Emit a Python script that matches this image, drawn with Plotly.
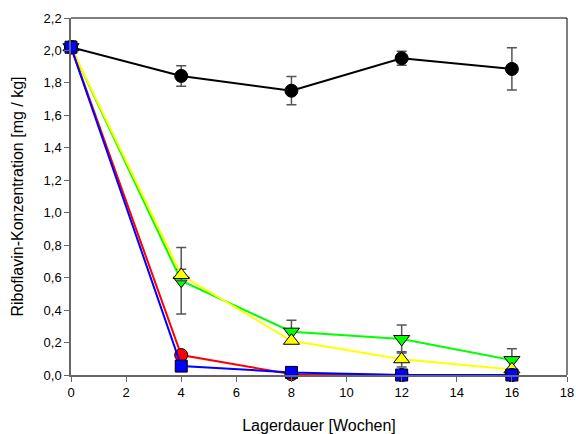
import plotly.graph_objects as go

weeks = [0, 4, 8, 12, 16]

black_vals = [2.02, 1.843, 1.752, 1.952, 1.886]
black_err = [0.04, 0.063, 0.087, 0.043, 0.13]

green_vals = [2.02, 0.581, 0.267, 0.222, 0.092]
green_err = [0.0, 0.205, 0.07, 0.086, 0.07]

yellow_vals = [2.02, 0.616, 0.211, 0.097, 0.035]
yellow_err = [0.0, 0.035, 0.0, 0.047, 0.0]

red_vals = [2.02, 0.123, 0.005, 0.0, 0.0]
red_err = [0.0, 0.0, 0.0, 0.0, 0.0]

blue_vals = [2.02, 0.055, 0.016, 0.0, 0.0]
blue_err = [0.0, 0.0, 0.0, 0.0, 0.0]

x_ticks = [0, 2, 4, 6, 8, 10, 12, 14, 16, 18]
y_ticks = [0.0, 0.2, 0.4, 0.6, 0.8, 1.0, 1.2, 1.4, 1.6, 1.8, 2.0, 2.2]

x_title = "Lagerdauer [Wochen]"
y_title = "Riboflavin-Konzentration [mg / kg]"

series = [
    ("black", black_vals, black_err, "#000000", "circle", 13),
    ("green", green_vals, green_err, "#00FF00", "triangle-down", 14),
    ("yellow", yellow_vals, yellow_err, "#FFFF00", "triangle-up", 14),
    ("red", red_vals, red_err, "#FF0000", "circle", 13),
    ("blue", blue_vals, blue_err, "#0000FF", "square", 12),
]

fig = go.Figure()
for name, vals, err, col, sym, sz in series:
    fig.add_trace(go.Scatter(
        x=weeks, y=vals, name=name, mode="lines+markers",
        line=dict(color=col, width=2),
        marker=dict(color=col, symbol=sym, size=sz,
                    line=dict(color="#000000", width=1)),
        error_y=dict(type="data", array=err, visible=True,
                     color="#555555", thickness=1.5, width=5),
        cliponaxis=False,
        showlegend=False,
    ))

axis_font = dict(family="Liberation Sans, Arial, sans-serif", size=13, color="#000000")

fig.update_layout(
    width=576, height=434,
    margin=dict(l=71, r=9, t=18, b=59, autoexpand=False),
    paper_bgcolor="white", plot_bgcolor="white",
    separators=",.",
    font=axis_font,
    xaxis=dict(
        range=[0, 18], tickvals=x_ticks, showgrid=False, zeroline=False,
        showline=True, linecolor="#666666", linewidth=1.5,
        ticks="outside", ticklen=5, tickcolor="#666666", tickwidth=1,
        ticklabeloverflow="allow",
        title=dict(text=x_title, font=dict(size=16), standoff=20),
        automargin=True,
    ),
    yaxis=dict(
        range=[0, 2.2], tickvals=y_ticks, tickformat=".1f", showgrid=False,
        zeroline=False, showline=True, linecolor="#666666", linewidth=1.5,
        ticks="outside", ticklen=5, tickcolor="#666666", tickwidth=1,
        title=dict(text=y_title, font=dict(size=16), standoff=16),
        automargin=True,
    ),
    shapes=[
        dict(type="line", xref="paper", yref="paper", x0=0, x1=1, y0=1, y1=1,
             line=dict(color="#000000", width=1)),
        dict(type="line", xref="paper", yref="paper", x0=1, x1=1, y0=0, y1=1,
             line=dict(color="#000000", width=1)),
    ],
)

fig.write_html(
    "out.html",
    config={"displayModeBar": False},
    post_script="document.body.style.margin='0';document.body.style.padding='0';",
)
